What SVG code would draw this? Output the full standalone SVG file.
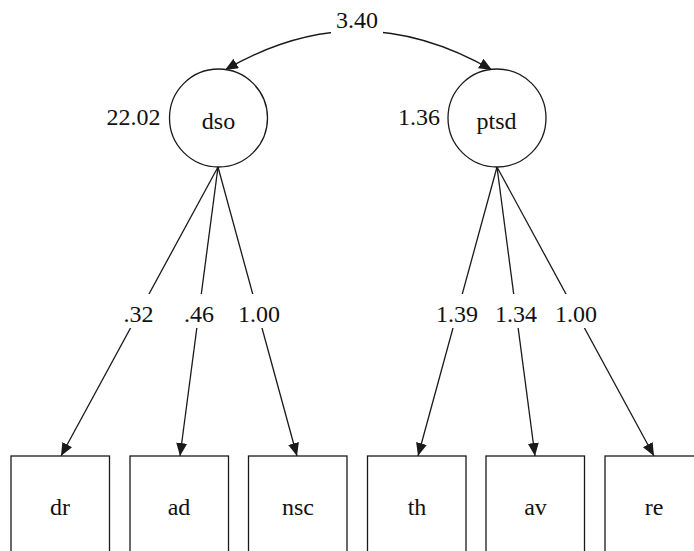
<svg xmlns="http://www.w3.org/2000/svg" width="694" height="551" viewBox="0 0 694 551">
<style>
.ln{stroke:#1a1a1a;stroke-width:1.3;fill:none}
.nd{stroke:#1a1a1a;stroke-width:1.3;fill:#fff}
.t{font-family:'Liberation Serif','Times New Roman',Times,serif;font-size:24px;fill:#111;text-anchor:middle}
.bg{fill:#fff;stroke:none}
</style>
<defs>
<marker id="ah" markerUnits="userSpaceOnUse" markerWidth="13" markerHeight="11" refX="13" refY="5.5" orient="auto">
<path d="M0,0 L13,5.5 L0,11 z" fill="#1a1a1a"/>
</marker>
</defs>
<rect width="694" height="551" fill="#fff"/>
<g id="connectors" font-family="Liberation Serif, serif">
<path class="ln" d="M358,31 Q292,31 225,70" marker-end="url(#ah)"/>
<path class="ln" d="M358,31 Q424,31 492,70" marker-end="url(#ah)"/>
<line class="ln" x1="218" y1="167" x2="61" y2="456" marker-end="url(#ah)"/>
<line class="ln" x1="218" y1="167" x2="180" y2="456" marker-end="url(#ah)"/>
<line class="ln" x1="218" y1="167" x2="297" y2="456" marker-end="url(#ah)"/>
<line class="ln" x1="497" y1="167" x2="418" y2="456" marker-end="url(#ah)"/>
<line class="ln" x1="497" y1="167" x2="535" y2="456" marker-end="url(#ah)"/>
<line class="ln" x1="497" y1="167" x2="654" y2="456" marker-end="url(#ah)"/>
<rect class="bg" x="331" y="8" width="52" height="28"/>
<text class="t" font-family="Liberation Serif, serif" x="357" y="28">3.40</text>
<rect class="bg" x="121" y="294" width="35" height="34"/>
<text class="t" font-family="Liberation Serif, serif" x="138.5" y="322">.32</text>
<rect class="bg" x="181" y="294" width="35" height="34"/>
<text class="t" font-family="Liberation Serif, serif" x="199" y="322">.46</text>
<rect class="bg" x="236" y="294" width="46" height="34"/>
<text class="t" font-family="Liberation Serif, serif" x="259" y="322">1.00</text>
<rect class="bg" x="434" y="294" width="46" height="34"/>
<text class="t" font-family="Liberation Serif, serif" x="457" y="322">1.39</text>
<rect class="bg" x="493" y="294" width="46" height="34"/>
<text class="t" font-family="Liberation Serif, serif" x="516" y="322">1.34</text>
<rect class="bg" x="553" y="294" width="46" height="34"/>
<text class="t" font-family="Liberation Serif, serif" x="576" y="322">1.00</text>
</g>
<g id="dso" font-family="Liberation Serif, serif">
<circle class="nd" cx="218.5" cy="118" r="49"/>
<text class="t" x="218.5" y="129">dso</text>
<text class="t" x="133.5" y="125">22.02</text>
</g>
<g id="ptsd" font-family="Liberation Serif, serif">
<circle class="nd" cx="497" cy="118" r="49"/>
<text class="t" x="496.5" y="129">ptsd</text>
<text class="t" x="419" y="125">1.36</text>
</g>
<g id="dr"><rect class="nd" x="11" y="456" width="98.5" height="110"/><text class="t" x="60" y="515">dr</text></g>
<g id="ad"><rect class="nd" x="130" y="456" width="98.5" height="110"/><text class="t" x="179" y="515">ad</text></g>
<g id="nsc"><rect class="nd" x="248.5" y="456" width="98.5" height="110"/><text class="t" x="298" y="515">nsc</text></g>
<g id="th"><rect class="nd" x="367.5" y="456" width="98.5" height="110"/><text class="t" x="417" y="515">th</text></g>
<g id="av"><rect class="nd" x="486" y="456" width="98.5" height="110"/><text class="t" x="535.5" y="515">av</text></g>
<g id="re"><rect class="nd" x="605" y="456" width="98.5" height="110"/><text class="t" x="654" y="515">re</text></g>
</svg>
